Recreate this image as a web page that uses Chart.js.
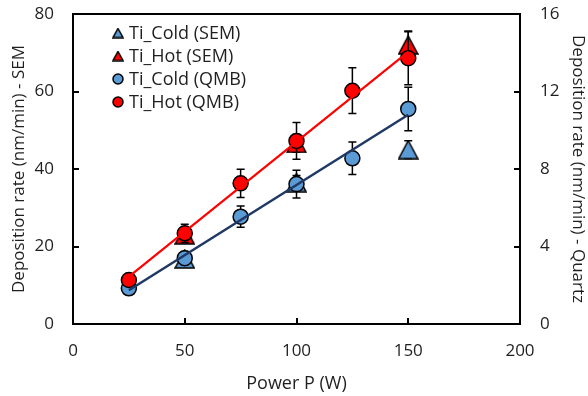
<!DOCTYPE html>
<html>
<head>
<meta charset="utf-8">
<script src="https://cdn.jsdelivr.net/npm/chart.js@4/dist/chart.umd.min.js"></script>
<style>
  html, body { margin: 0; padding: 0; background: #fff; }
  #wrap { width: 588px; height: 396px; position: relative; }
</style>
</head>
<body>
<div id="wrap"><canvas id="chart"></canvas></div>
<script>
// power settings (W)
const powerQmb = [25, 50, 75, 100, 125, 150]
const powerSem = [50, 100, 150]

// SEM rates, nm/min (left axis)
const semCold = [16.8, 36.5, 45]
const semHot = [23, 46.6, 72]
const semColdErr = [0.8, 1.8, 2.3]
const semHotErr = [1.1, 2.3, 3.6]

// quartz balance rates, nm/min (right axis)
const qmbCold = [1.84, 3.4, 5.54, 7.22, 8.55, 11.1]
const qmbHot = [2.27, 4.68, 7.26, 9.45, 12.04, 13.72]
const qmbColdErr = [0.18, 0.34, 0.55, 0.72, 0.84, 1.12]
const qmbHotErr = [0.23, 0.47, 0.73, 0.95, 1.18, 1.37]

// linear fit end points for the QMB series
const fitPower = [25, 150]
const fitCold = [1.74, 10.8]
const fitHot = [2.44, 14.04]

const BLUE = '#5B9BD5'
const RED = '#FF0000'
const NAVY = '#1F3864'
const TEXT = '#1F1F1F'
const FONT = 'Open Sans'

function points(xs, ys) {
  return xs.map((x, i) => ({ x, y: ys[i] }))
}

// triangle marker centred on its bounding box
function triangle(fill, w, h) {
  const c = document.createElement('canvas')
  c.width = w + 2
  c.height = h + 2
  const ctx = c.getContext('2d')
  ctx.beginPath()
  ctx.moveTo(c.width / 2, 1)
  ctx.lineTo(c.width - 1, c.height - 1)
  ctx.lineTo(1, c.height - 1)
  ctx.closePath()
  ctx.fillStyle = fill
  ctx.fill()
  ctx.lineWidth = 1.5
  ctx.strokeStyle = '#000'
  ctx.stroke()
  return c
}

const errorBars = {
  id: 'errorBars',
  beforeDatasetDraw(chart, args) {
    const ds = chart.data.datasets[args.index]
    if (!ds.errors) return
    const ctx = chart.ctx
    const xs = chart.scales.x
    const ys = chart.scales[ds.yAxisID || 'y']
    ctx.save()
    ctx.strokeStyle = '#000'
    ctx.lineWidth = 1.5
    ds.data.forEach((p, i) => {
      const e = ds.errors[i]
      const px = xs.getPixelForValue(p.x)
      const top = ys.getPixelForValue(p.y + e)
      const bot = ys.getPixelForValue(p.y - e)
      ctx.beginPath()
      ctx.moveTo(px, top)
      ctx.lineTo(px, bot)
      ctx.moveTo(px - 4, top)
      ctx.lineTo(px + 4, top)
      ctx.moveTo(px - 4, bot)
      ctx.lineTo(px + 4, bot)
      ctx.stroke()
    })
    ctx.restore()
  },
}

// plot frame with inward tick marks
const frame = {
  id: 'frame',
  beforeDatasetsDraw(chart) {
    const { ctx, chartArea: a, scales } = chart
    ctx.save()
    ctx.strokeStyle = '#000'
    ctx.lineWidth = 2
    ctx.strokeRect(a.left, a.top, a.right - a.left, a.bottom - a.top)
    ctx.beginPath()
    scales.x.ticks.forEach((t) => {
      const px = Math.round(scales.x.getPixelForValue(t.value))
      ctx.moveTo(px, a.bottom)
      ctx.lineTo(px, a.bottom - 6)
    })
    scales.y.ticks.forEach((t) => {
      const py = Math.round(scales.y.getPixelForValue(t.value))
      ctx.moveTo(a.left, py)
      ctx.lineTo(a.left + 6, py)
    })
    scales.y2.ticks.forEach((t) => {
      const py = Math.round(scales.y2.getPixelForValue(t.value))
      ctx.moveTo(a.right, py)
      ctx.lineTo(a.right - 6, py)
    })
    ctx.stroke()
    ctx.restore()
  },
}

const legendBox = {
  id: 'legendBox',
  afterDraw(chart) {
    const ctx = chart.ctx
    const items = chart.data.datasets.filter((ds) => ds.legendMark)
    items.sort((a, b) => a.legendRow - b.legendRow)
    ctx.save()
    ctx.font = `18px "${FONT}"`
    ctx.textBaseline = 'middle'
    items.forEach((ds, i) => {
      const y = 33 + i * 23
      const x = 118
      if (ds.legendMark === 'triangle') {
        ctx.drawImage(ds.legendImage, x - ds.legendImage.width / 2, y - ds.legendImage.height / 2)
      } else {
        ctx.beginPath()
        ctx.arc(x, y, 5, 0, Math.PI * 2)
        ctx.fillStyle = ds.backgroundColor
        ctx.fill()
        ctx.lineWidth = 1.5
        ctx.strokeStyle = '#000'
        ctx.stroke()
      }
      ctx.fillStyle = TEXT
      ctx.fillText(ds.label, 129, y + 1)
    })
    ctx.restore()
  },
}

// keep the plot box at a fixed place on the canvas
function pinVertical(width) {
  return (s) => {
    s.width = width
    s.paddingTop = 14
    s.paddingBottom = 0
  }
}

const tickFont = { family: FONT, size: 17 }
const titleFont = { family: FONT, size: 17 }

new Chart(document.getElementById('chart'), {
  type: 'scatter',
  data: {
    datasets: [
      {
        label: 'fit hot',
        type: 'line',
        data: points(fitPower, fitHot),
        yAxisID: 'y2',
        borderColor: RED,
        borderWidth: 2.2,
        pointRadius: 0,
        order: 0,
      },
      {
        label: 'fit cold',
        type: 'line',
        data: points(fitPower, fitCold),
        yAxisID: 'y2',
        borderColor: NAVY,
        borderWidth: 2.5,
        pointRadius: 0,
        order: 1,
      },
      {
        label: 'Ti_Hot (QMB)',
        data: points(powerQmb, qmbHot),
        errors: qmbHotErr,
        yAxisID: 'y2',
        backgroundColor: RED,
        borderColor: '#000',
        borderWidth: 1.5,
        pointRadius: 7.5,
        legendMark: 'circle',
        legendRow: 3,
        order: 2,
      },
      {
        label: 'Ti_Cold (QMB)',
        data: points(powerQmb, qmbCold),
        errors: qmbColdErr,
        yAxisID: 'y2',
        backgroundColor: BLUE,
        borderColor: '#000',
        borderWidth: 1.5,
        pointRadius: 7.5,
        legendMark: 'circle',
        legendRow: 2,
        order: 3,
      },
      {
        label: 'Ti_Hot (SEM)',
        data: points(powerSem, semHot),
        errors: semHotErr,
        yAxisID: 'y',
        pointStyle: triangle(RED, 19, 18),
        legendMark: 'triangle',
        legendImage: triangle(RED, 10, 9),
        legendRow: 1,
        order: 4,
      },
      {
        label: 'Ti_Cold (SEM)',
        data: points(powerSem, semCold),
        errors: semColdErr,
        yAxisID: 'y',
        pointStyle: triangle(BLUE, 19, 18),
        legendMark: 'triangle',
        legendImage: triangle(BLUE, 10, 9),
        legendRow: 0,
        order: 5,
      },
    ],
  },
  options: {
    animation: false,
    responsive: true,
    maintainAspectRatio: false,
    layout: { padding: 0 },
    plugins: {
      legend: { display: false },
      tooltip: { enabled: false },
    },
    scales: {
      x: {
        type: 'linear',
        min: 0,
        max: 200,
        grid: { display: false, drawTicks: false },
        border: { display: false },
        ticks: { stepSize: 50, color: TEXT, font: tickFont, padding: 17 },
        title: {
          display: true,
          text: 'Power P (W)',
          color: TEXT,
          font: { family: FONT, size: 18 },
          padding: { top: 0, bottom: 1 },
        },
        afterFit: (s) => {
          s.height = 72
          s.paddingLeft = 0
          s.paddingRight = 0
        },
      },
      y: {
        position: 'left',
        min: 0,
        max: 80,
        grid: { display: false, drawTicks: false },
        border: { display: false },
        ticks: { stepSize: 20, color: TEXT, font: tickFont, padding: 19 },
        title: {
          display: true,
          text: 'Deposition rate (nm/min) - SEM',
          color: TEXT,
          font: titleFont,
          padding: { top: 9, bottom: 0 },
        },
        afterFit: pinVertical(73),
      },
      y2: {
        position: 'right',
        min: 0,
        max: 16,
        grid: { display: false, drawTicks: false },
        border: { display: false },
        ticks: { stepSize: 4, color: TEXT, font: tickFont, padding: 20 },
        title: {
          display: true,
          text: 'Deposition rate (nm/min) - Quartz',
          color: TEXT,
          font: titleFont,
          padding: { top: 0, bottom: 0 },
        },
        afterFit: pinVertical(68),
      },
    },
  },
  plugins: [frame, errorBars, legendBox],
})
</script>
</body>
</html>
